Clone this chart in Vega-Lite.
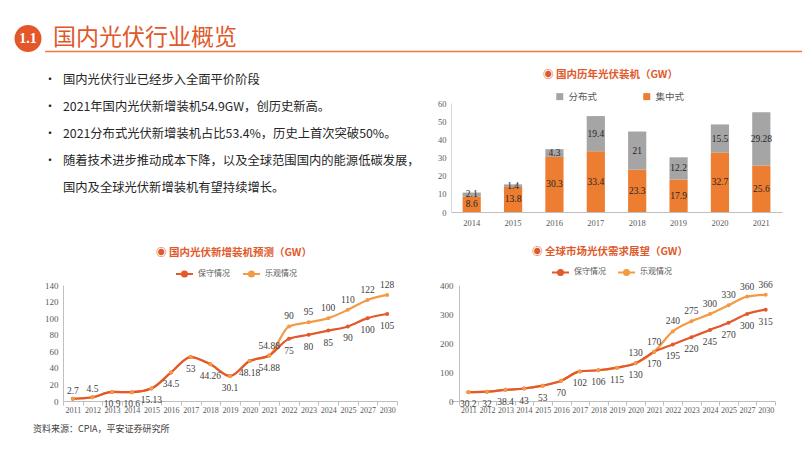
{
  "$schema": "https://vega.github.io/schema/vega-lite/v6.json",
  "padding": 0,
  "background": "white",
  "columns": 6,
  "align": "each",
  "bounds": "flush",
  "spacing": 0,
  "resolve": {"scale": {"color": "independent"}, "legend": {"color": "independent"}},
  "config": {
    "view": {"stroke": null},
    "font": "Noto Sans CJK SC",
    "title": {"font": "Noto Sans CJK SC", "fontWeight": "bold", "fontSize": 10.5, "color": "#E0592B"},
    "legend": {"labelFont": "Noto Sans CJK SC", "labelColor": "#595959"}
  },
  "concat": [
    {"width": 14, "height": 103, "data": {"values": []}, "mark": "point"},
    {
      "width": 28, "height": 77,
      "data": {"values": [{"num": "1.1"}]},
      "layer": [
        {"mark": {"type": "point", "shape": "circle", "filled": true, "size": 729, "color": "#E4572B", "opacity": 1}, "encoding": {}},
        {"mark": {"type": "text", "color": "white", "font": "Liberation Serif", "fontSize": 14, "fontWeight": "bold", "align": "center", "baseline": "middle"}, "encoding": {"text": {"field": "num"}}}
      ]
    },
    {"width": 3, "height": 0.01, "data": {"values": []}, "mark": "point"},
    {
      "width": 18, "height": 51.5,
      "layer": [
        {"data": {"values": [{"k": 1}]}, "mark": {"type": "rule", "color": "#EB7845", "strokeWidth": 1.5}, "encoding": {"y": {"value": "height"}}},
        {
          "data": {"values": [
            {"line": 1, "bullet": "•", "text": "国内光伏行业已经步入全面平价阶段"},
            {"line": 2, "bullet": "•", "text": "2021年国内光伏新增装机54.9GW，创历史新高。"},
            {"line": 3, "bullet": "•", "text": "2021分布式光伏新增装机占比53.4%，历史上首次突破50%。"},
            {"line": 4, "bullet": "•", "text": "随着技术进步推动成本下降，以及全球范围国内的能源低碳发展，"},
            {"line": 5, "bullet": "", "text": "国内及全球光伏新增装机有望持续增长。"}
          ]},
          "encoding": {"y": {"field": "line", "type": "ordinal", "scale": {"type": "point", "padding": 0, "range": [80, 188]}, "axis": null}},
          "layer": [
            {"mark": {"type": "text", "align": "left", "baseline": "middle", "fontSize": 12, "dx": -10, "color": "#262626"}, "encoding": {"text": {"field": "bullet"}}},
            {"mark": {"type": "text", "align": "left", "baseline": "middle", "dx": 9, "fontSize": 12.3, "color": "#262626"}, "encoding": {"text": {"field": "text"}}}
          ]
        }
      ]
    },
    {
      "width": 388, "height": 51.5,
      "data": {"values": [{"k": 1}]},
      "title": {"text": "国内光伏行业概览", "anchor": "start", "frame": "group", "orient": "top", "offset": -61, "baseline": "middle", "dx": -10, "fontSize": 23, "fontWeight": "normal", "color": "#E0592B"},
      "mark": {"type": "rule", "color": "#EB7845", "strokeWidth": 1.5},
      "encoding": {"y": {"value": "height"}}
    },
    {
      "width": 351, "height": 51.5,
      "data": {"values": [{"k": 1}]},
      "mark": {"type": "rule", "color": "#EB7845", "strokeWidth": 1.5},
      "encoding": {"y": {"value": "height"}}
    },

    {"width": 14, "height": 182, "data": {"values": []}, "mark": "point"},
    {"width": 0.01, "height": 0.01, "data": {"values": []}, "mark": "point"},
    {"width": 0.01, "height": 0.01, "data": {"values": []}, "mark": "point"},
    {"width": 0.01, "height": 0.01, "data": {"values": []}, "mark": "point"},
    {"width": 0.01, "height": 0.01, "data": {"values": []}, "mark": "point"},
    {
      "width": 331, "height": 109,
      "title": {"text": "◉ 国内历年光伏装机（GW）", "offset": 11.5, "dx": -6},
      "data": {"values": [
        {"year": "2014", "type": "集中式", "value": 8.6}, {"year": "2014", "type": "分布式", "value": 2.1},
        {"year": "2015", "type": "集中式", "value": 13.8}, {"year": "2015", "type": "分布式", "value": 1.4},
        {"year": "2016", "type": "集中式", "value": 30.3}, {"year": "2016", "type": "分布式", "value": 4.3},
        {"year": "2017", "type": "集中式", "value": 33.4}, {"year": "2017", "type": "分布式", "value": 19.4},
        {"year": "2018", "type": "集中式", "value": 23.3}, {"year": "2018", "type": "分布式", "value": 21},
        {"year": "2019", "type": "集中式", "value": 17.9}, {"year": "2019", "type": "分布式", "value": 12.2},
        {"year": "2020", "type": "集中式", "value": 32.7}, {"year": "2020", "type": "分布式", "value": 15.5},
        {"year": "2021", "type": "集中式", "value": 25.6}, {"year": "2021", "type": "分布式", "value": 29.28}
      ]},
      "encoding": {
        "x": {"field": "year", "type": "nominal", "scale": {"paddingInner": 0.56}, "axis": {"title": null, "labelAngle": 0, "ticks": false, "domainColor": "#BFBFBF", "labelFont": "Liberation Serif", "labelFontSize": 8.5, "labelColor": "#595959", "labelPadding": 6}},
        "y": {"field": "value", "type": "quantitative", "stack": "zero", "scale": {"domain": [0, 60]}, "axis": {"title": null, "values": [0, 10, 20, 30, 40, 50, 60], "grid": false, "ticks": false, "domainColor": "#D9D9D9", "labelFont": "Liberation Serif", "labelFontSize": 8.5, "labelColor": "#595959", "labelPadding": 5}},
        "order": {"field": "type", "sort": "descending"}
      },
      "layer": [
        {
          "mark": {"type": "bar"},
          "encoding": {"color": {"field": "type", "type": "nominal", "scale": {"domain": ["分布式", "集中式"], "range": ["#A5A5A5", "#ED7D31"]},
            "legend": {"orient": "none", "legendX": 104, "legendY": -11.5, "direction": "horizontal", "title": null, "symbolType": "square", "symbolSize": 49, "symbolStrokeWidth": 0, "labelFontSize": 9.5, "columnPadding": 44}}}
        },
        {
          "mark": {"type": "text", "font": "Liberation Serif", "fontSize": 9.5, "color": "#262626", "baseline": "middle"},
          "encoding": {
            "y": {"field": "value", "type": "quantitative", "stack": "zero", "bandPosition": 0.5},
            "text": {"field": "value", "type": "nominal"}
          }
        }
      ]
    },

    {"width": 0.01, "height": 0.01, "data": {"values": []}, "mark": "point"},
    {"width": 0.01, "height": 0.01, "data": {"values": []}, "mark": "point"},
    {"width": 0.01, "height": 0.01, "data": {"values": []}, "mark": "point"},
    {"width": 0.01, "height": 0.01, "data": {"values": []}, "mark": "point"},
    {
      "width": 334, "height": 116,
      "title": {"text": "◉ 国内光伏新增装机预测（GW）", "offset": 6, "dx": 4},
      "data": {"values": [
        {"year": "2011", "scenario": "保守情况", "value": 2.7}, {"year": "2012", "scenario": "保守情况", "value": 4.5},
        {"year": "2013", "scenario": "保守情况", "value": 10.9}, {"year": "2014", "scenario": "保守情况", "value": 10.6},
        {"year": "2015", "scenario": "保守情况", "value": 15.13}, {"year": "2016", "scenario": "保守情况", "value": 34.5},
        {"year": "2017", "scenario": "保守情况", "value": 53}, {"year": "2018", "scenario": "保守情况", "value": 44.26},
        {"year": "2019", "scenario": "保守情况", "value": 30.1}, {"year": "2020", "scenario": "保守情况", "value": 48.18},
        {"year": "2021", "scenario": "保守情况", "value": 54.88}, {"year": "2022", "scenario": "保守情况", "value": 75},
        {"year": "2023", "scenario": "保守情况", "value": 80}, {"year": "2024", "scenario": "保守情况", "value": 85},
        {"year": "2025", "scenario": "保守情况", "value": 90}, {"year": "2027", "scenario": "保守情况", "value": 100},
        {"year": "2030", "scenario": "保守情况", "value": 105},
        {"year": "2011", "scenario": "乐观情况", "value": 2.7}, {"year": "2012", "scenario": "乐观情况", "value": 4.5},
        {"year": "2013", "scenario": "乐观情况", "value": 10.9}, {"year": "2014", "scenario": "乐观情况", "value": 10.6},
        {"year": "2015", "scenario": "乐观情况", "value": 15.13}, {"year": "2016", "scenario": "乐观情况", "value": 34.5},
        {"year": "2017", "scenario": "乐观情况", "value": 53}, {"year": "2018", "scenario": "乐观情况", "value": 44.26},
        {"year": "2019", "scenario": "乐观情况", "value": 30.1}, {"year": "2020", "scenario": "乐观情况", "value": 48.18},
        {"year": "2021", "scenario": "乐观情况", "value": 54.88}, {"year": "2022", "scenario": "乐观情况", "value": 90},
        {"year": "2023", "scenario": "乐观情况", "value": 95}, {"year": "2024", "scenario": "乐观情况", "value": 100},
        {"year": "2025", "scenario": "乐观情况", "value": 110}, {"year": "2027", "scenario": "乐观情况", "value": 122},
        {"year": "2030", "scenario": "乐观情况", "value": 128}
      ]},
      "encoding": {
        "x": {"field": "year", "type": "ordinal", "scale": {"type": "band", "paddingInner": 0, "paddingOuter": 0}, "axis": {"title": null, "labelAngle": 0, "tickBand": "extent", "tickSize": 4, "tickColor": "#BFBFBF", "domainColor": "#BFBFBF", "labelFont": "Liberation Serif", "labelFontSize": 8, "labelColor": "#595959", "labelPadding": 1, "labelOverlap": false}},
        "y": {"field": "value", "type": "quantitative", "scale": {"domain": [0, 140]}, "axis": {"title": null, "values": [0, 20, 40, 60, 80, 100, 120, 140], "grid": false, "ticks": false, "domainColor": "#BFBFBF", "labelFont": "Liberation Serif", "labelFontSize": 9, "labelColor": "#595959", "labelPadding": 5}},
        "color": {"field": "scenario", "type": "nominal", "scale": {"domain": ["保守情况", "乐观情况"], "range": ["#E2592B", "#F39A45"]},
          "legend": {"orient": "none", "legendX": 112, "legendY": -21, "direction": "horizontal", "title": null, "symbolType": "M-1,0L1,0M0.3,0A0.3,0.3,0,1,1,-0.3,0A0.3,0.3,0,1,1,0.3,0", "symbolSize": 289, "symbolStrokeWidth": 2, "labelFontSize": 8, "columnPadding": 9}}
      },
      "layer": [
        {"transform": [{"filter": "datum.scenario == '乐观情况'"}], "mark": {"type": "line", "interpolate": "monotone", "strokeWidth": 2.2}},
        {"transform": [{"filter": "datum.scenario == '保守情况'"}], "mark": {"type": "line", "interpolate": "monotone", "strokeWidth": 2.2}},
        {"mark": {"type": "point", "filled": true, "size": 16, "opacity": 1}},
        {"transform": [{"filter": "datum.scenario == '保守情况' && datum.year != '2011' && datum.year != '2012'"}],
         "mark": {"type": "text", "font": "Liberation Serif", "fontSize": 9.5, "dy": 12, "baseline": "middle"},
         "encoding": {"text": {"field": "value", "type": "nominal"}, "color": {"value": "#404040"}}},
        {"transform": [{"filter": "datum.scenario == '保守情况' && (datum.year == '2011' || datum.year == '2012')"}],
         "mark": {"type": "text", "font": "Liberation Serif", "fontSize": 9.5, "dy": -8, "baseline": "middle"},
         "encoding": {"text": {"field": "value", "type": "nominal"}, "color": {"value": "#404040"}}},
        {"transform": [{"filter": "datum.scenario == '乐观情况' && toNumber(datum.year) >= 2021"}],
         "mark": {"type": "text", "font": "Liberation Serif", "fontSize": 9.5, "dy": -10, "baseline": "middle"},
         "encoding": {"text": {"field": "value", "type": "nominal"}, "color": {"value": "#404040"}}}
      ]
    },
    {
      "width": 324, "height": 116,
      "title": {"text": "◉ 全球市场光伏需求展望（GW）", "offset": 5.5, "dx": -3},
      "data": {"values": [
        {"year": "2011", "scenario": "保守情况", "value": 30.2}, {"year": "2012", "scenario": "保守情况", "value": 32},
        {"year": "2013", "scenario": "保守情况", "value": 38.4}, {"year": "2014", "scenario": "保守情况", "value": 43},
        {"year": "2015", "scenario": "保守情况", "value": 53}, {"year": "2016", "scenario": "保守情况", "value": 70},
        {"year": "2017", "scenario": "保守情况", "value": 102}, {"year": "2018", "scenario": "保守情况", "value": 106},
        {"year": "2019", "scenario": "保守情况", "value": 115}, {"year": "2020", "scenario": "保守情况", "value": 130},
        {"year": "2021", "scenario": "保守情况", "value": 170}, {"year": "2022", "scenario": "保守情况", "value": 195},
        {"year": "2023", "scenario": "保守情况", "value": 220}, {"year": "2024", "scenario": "保守情况", "value": 245},
        {"year": "2025", "scenario": "保守情况", "value": 270}, {"year": "2027", "scenario": "保守情况", "value": 300},
        {"year": "2030", "scenario": "保守情况", "value": 315},
        {"year": "2011", "scenario": "乐观情况", "value": 30.2}, {"year": "2012", "scenario": "乐观情况", "value": 32},
        {"year": "2013", "scenario": "乐观情况", "value": 38.4}, {"year": "2014", "scenario": "乐观情况", "value": 43},
        {"year": "2015", "scenario": "乐观情况", "value": 53}, {"year": "2016", "scenario": "乐观情况", "value": 70},
        {"year": "2017", "scenario": "乐观情况", "value": 102}, {"year": "2018", "scenario": "乐观情况", "value": 106},
        {"year": "2019", "scenario": "乐观情况", "value": 115}, {"year": "2020", "scenario": "乐观情况", "value": 130},
        {"year": "2021", "scenario": "乐观情况", "value": 170}, {"year": "2022", "scenario": "乐观情况", "value": 240},
        {"year": "2023", "scenario": "乐观情况", "value": 275}, {"year": "2024", "scenario": "乐观情况", "value": 300},
        {"year": "2025", "scenario": "乐观情况", "value": 330}, {"year": "2027", "scenario": "乐观情况", "value": 360},
        {"year": "2030", "scenario": "乐观情况", "value": 366}
      ]},
      "encoding": {
        "x": {"field": "year", "type": "ordinal", "scale": {"type": "band", "paddingInner": 0, "paddingOuter": 0.2152, "align": 1}, "axis": {"title": null, "labelAngle": 0, "tickBand": "extent", "tickSize": 4, "tickColor": "#BFBFBF", "domainColor": "#BFBFBF", "labelFont": "Liberation Serif", "labelFontSize": 8, "labelColor": "#595959", "labelPadding": 1, "labelOverlap": false}},
        "y": {"field": "value", "type": "quantitative", "scale": {"domain": [0, 400]}, "axis": {"title": null, "offset": -8, "values": [0, 100, 200, 300, 400], "grid": false, "ticks": false, "domainColor": "#BFBFBF", "labelFont": "Liberation Serif", "labelFontSize": 9, "labelColor": "#595959", "labelPadding": 6}},
        "color": {"field": "scenario", "type": "nominal", "scale": {"domain": ["保守情况", "乐观情况"], "range": ["#E2592B", "#F39A45"]},
          "legend": {"orient": "none", "legendX": 100, "legendY": -22.5, "direction": "horizontal", "title": null, "symbolType": "M-1,0L1,0M0.3,0A0.3,0.3,0,1,1,-0.3,0A0.3,0.3,0,1,1,0.3,0", "symbolSize": 289, "symbolStrokeWidth": 2, "labelFontSize": 8, "columnPadding": 8}}
      },
      "layer": [
        {"transform": [{"filter": "datum.scenario == '乐观情况'"}], "mark": {"type": "line", "interpolate": "monotone", "strokeWidth": 2.2}},
        {"transform": [{"filter": "datum.scenario == '保守情况'"}], "mark": {"type": "line", "interpolate": "monotone", "strokeWidth": 2.2}},
        {"mark": {"type": "point", "filled": true, "size": 16, "opacity": 1}},
        {"transform": [{"filter": "datum.scenario == '保守情况'"}],
         "mark": {"type": "text", "font": "Liberation Serif", "fontSize": 9.5, "dy": 12, "baseline": "middle"},
         "encoding": {"text": {"field": "value", "type": "nominal"}, "color": {"value": "#404040"}}},
        {"transform": [{"filter": "datum.scenario == '乐观情况' && toNumber(datum.year) >= 2020"}],
         "mark": {"type": "text", "font": "Liberation Serif", "fontSize": 9.5, "dy": -10, "baseline": "middle"},
         "encoding": {"text": {"field": "value", "type": "nominal"}, "color": {"value": "#404040"}}}
      ]
    },

    {
      "width": 1, "height": 1,
      "data": {"values": [{"src": "资料来源：CPIA，平安证券研究所"}]},
      "mark": {"type": "text", "align": "left", "baseline": "middle", "fontSize": 9, "dx": 32.5, "dy": 27, "color": "#404040"},
      "encoding": {"text": {"field": "src"}}
    }
  ]
}
